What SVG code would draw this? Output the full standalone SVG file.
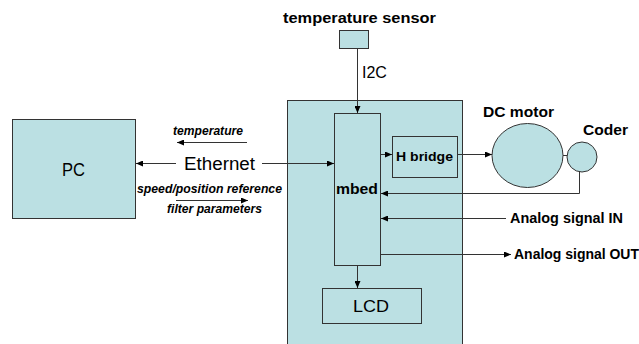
<svg xmlns="http://www.w3.org/2000/svg" width="639" height="344" viewBox="0 0 639 344">
<defs>
<marker id="ah" markerWidth="7" markerHeight="6" refX="7" refY="3" orient="auto" markerUnits="userSpaceOnUse">
<path d="M0,0 L7,3 L0,6 Z" fill="#000"/>
</marker>
<style>
.box{fill:#BBE0E3;stroke:#333;stroke-width:1}
.inner{fill:none;stroke:#333;stroke-width:1}
.ln{fill:none;stroke:#333;stroke-width:1;marker-end:url(#ah)}
.pl{fill:none;stroke:#333;stroke-width:1}
.t{font-family:"Liberation Sans",Arial,sans-serif;fill:#000}
.b{font-weight:bold}
.i{font-style:italic;font-weight:bold;font-size:12px}
</style>
</defs>
<rect width="639" height="344" fill="#fff"/>
<g id="board"><rect class="box" x="287.5" y="100.5" width="175" height="250"/></g>
<g id="pc"><rect class="box" x="12.5" y="119.5" width="123" height="99"/><text class="t" x="62" y="176" font-size="18" textLength="23" lengthAdjust="spacingAndGlyphs">PC</text></g>
<g id="sensor"><rect class="box" x="339.5" y="30.5" width="29" height="18"/><text class="t b" x="283" y="23" font-size="15" textLength="153" lengthAdjust="spacingAndGlyphs">temperature sensor</text></g>
<g id="mbed"><rect class="inner" x="334.5" y="113.5" width="46" height="152"/><text class="t b" x="336" y="194" font-size="15" textLength="42" lengthAdjust="spacingAndGlyphs">mbed</text></g>
<g id="hbridge"><rect class="inner" x="392.5" y="136.5" width="65" height="41"/><text class="t b" x="396" y="161" font-size="13" textLength="57" lengthAdjust="spacingAndGlyphs">H bridge</text></g>
<g id="lcd"><rect class="inner" x="322.5" y="288.5" width="99" height="35"/><text class="t" x="353" y="312" font-size="17" textLength="36" lengthAdjust="spacingAndGlyphs">LCD</text></g>
<g id="motor"><ellipse class="box" cx="527.5" cy="155.5" rx="35.5" ry="32"/><text class="t b" x="483" y="117" font-size="15" textLength="71" lengthAdjust="spacingAndGlyphs">DC motor</text></g>
<g id="coder"><circle class="box" cx="582" cy="157" r="15"/><text class="t b" x="583" y="135" font-size="15" textLength="45" lengthAdjust="spacingAndGlyphs">Coder</text></g>
<g id="ethernet"><text class="t" x="184" y="170" font-size="18" textLength="71" lengthAdjust="spacingAndGlyphs">Ethernet</text></g>
<g id="labels">
<text class="t i" x="173" y="135" textLength="70" lengthAdjust="spacingAndGlyphs">temperature</text>
<text class="t i" x="137" y="193" textLength="145" lengthAdjust="spacingAndGlyphs">speed/position reference</text>
<text class="t i" x="167" y="213" textLength="95" lengthAdjust="spacingAndGlyphs">filter parameters</text>
<text class="t b" x="510" y="223" font-size="14" textLength="113" lengthAdjust="spacingAndGlyphs">Analog signal IN</text>
<text class="t b" x="514" y="259" font-size="14" textLength="125" lengthAdjust="spacingAndGlyphs">Analog signal OUT</text>
<text class="t" x="362" y="78" font-size="16">I2C</text>
</g>
<g id="connectors">
<line class="ln" x1="357.5" y1="48" x2="357.5" y2="113"/>
<line class="ln" x1="262" y1="163.5" x2="334" y2="163.5"/>
<line class="ln" x1="176" y1="163.5" x2="136" y2="163.5"/>
<line class="ln" x1="247" y1="142.5" x2="177" y2="142.5"/>
<line class="ln" x1="176" y1="200.5" x2="248" y2="200.5"/>
<line class="ln" x1="380" y1="154.5" x2="392" y2="154.5"/>
<line class="ln" x1="457" y1="154.5" x2="492" y2="154.5"/>
<line class="pl" x1="563" y1="155.5" x2="567" y2="155.5"/>
<polyline class="ln" points="579.5,171 579.5,193.5 381,193.5"/>
<line class="ln" x1="506" y1="218.5" x2="381" y2="218.5"/>
<line class="ln" x1="381" y1="254.5" x2="511" y2="254.5"/>
<line class="ln" x1="357.5" y1="265" x2="357.5" y2="288"/>
</g>
</svg>
